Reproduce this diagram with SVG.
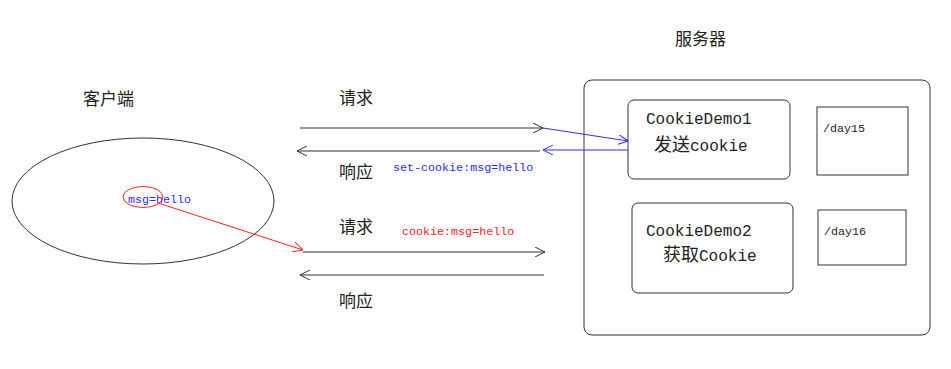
<svg xmlns="http://www.w3.org/2000/svg" width="951" height="369" viewBox="0 0 951 369">
<style>
.cjk{font-family:"Noto Sans CJK SC","Noto Sans",sans-serif;font-size:17px;fill:#222}
.mono{font-family:"Liberation Mono",monospace;fill:#222}
.big{font-size:16px}
.small{font-size:11.7px}
.box{fill:#fff;stroke:#333;stroke-width:1}
.ln{fill:none;stroke:#333;stroke-width:1}
.blue{fill:none;stroke:#2b2bff;stroke-width:1}
.red{fill:none;stroke:#ff2020;stroke-width:1}
</style>
<defs>
<marker id="ah" viewBox="0 0 10 10" refX="10" refY="5" markerWidth="10" markerHeight="10" markerUnits="userSpaceOnUse" orient="auto"><path d="M0,0 L10,5 L0,10" fill="none" stroke="#333"/></marker>
<marker id="ahb" viewBox="0 0 10 10" refX="10" refY="5" markerWidth="10" markerHeight="10" markerUnits="userSpaceOnUse" orient="auto"><path d="M0,0 L10,5 L0,10" fill="none" stroke="#2b2bff"/></marker>
<marker id="ahr" viewBox="0 0 10 10" refX="10" refY="5" markerWidth="10" markerHeight="10" markerUnits="userSpaceOnUse" orient="auto"><path d="M0,0 L10,5 L0,10" fill="none" stroke="#ff2020"/></marker>
</defs>
<rect width="951" height="369" fill="#fff"/>

<g id="client">
<text class="cjk" x="83" y="105">客户端</text>
<ellipse class="ln" cx="143" cy="201" rx="131" ry="63"/>
<text class="mono small" x="128" y="203" style="fill:#2b2bff">msg=hello</text>
<ellipse class="red" cx="143" cy="197" rx="20" ry="10.5"/>
</g>

<g id="server">
<text class="cjk" x="675" y="45">服务器</text>
<rect class="box" x="584" y="80" width="346" height="255" rx="8"/>
</g>

<g id="cookiedemo1">
<rect class="box" x="628" y="100" width="162" height="79" rx="6"/>
<text class="mono big" x="646" y="124">CookieDemo1</text>
<text x="654" y="151"><tspan class="cjk" style="font-size:18px">发送</tspan><tspan class="mono big">cookie</tspan></text>
</g>

<g id="cookiedemo2">
<rect class="box" x="632" y="203" width="161" height="90" rx="6"/>
<text class="mono big" x="646" y="236">CookieDemo2</text>
<text x="663" y="261"><tspan class="cjk" style="font-size:18px">获取</tspan><tspan class="mono big">Cookie</tspan></text>
</g>

<g id="day15">
<rect class="box" x="817" y="107" width="91" height="68"/>
<text class="mono small" x="823" y="132">/day15</text>
</g>

<g id="day16">
<rect class="box" x="818" y="210" width="88" height="55"/>
<text class="mono small" x="824" y="235">/day16</text>
</g>

<g id="connectors">
<line class="ln" x1="300" y1="128" x2="543" y2="128" marker-end="url(#ah)"/>
<line class="ln" x1="540" y1="151" x2="297" y2="151" marker-end="url(#ah)"/>
<line class="blue" x1="543" y1="128" x2="628" y2="141" marker-end="url(#ahb)"/>
<line class="blue" x1="628" y1="150" x2="543" y2="150" marker-end="url(#ahb)"/>
<line class="ln" x1="303" y1="252" x2="545" y2="252" marker-end="url(#ah)"/>
<line class="ln" x1="544" y1="275" x2="300" y2="275" marker-end="url(#ah)"/>
<line class="red" x1="158" y1="203" x2="303" y2="250" marker-end="url(#ahr)"/>
<text class="cjk" x="339" y="104">请求</text>
<text class="cjk" x="339" y="178">响应</text>
<text class="mono small" x="393" y="171" style="fill:#2b2bff">set-cookie:msg=hello</text>
<text class="cjk" x="339" y="233">请求</text>
<text class="mono small" x="402" y="235" style="fill:#ff2020">cookie:msg=hello</text>
<text class="cjk" x="339" y="307">响应</text>
</g>
</svg>
